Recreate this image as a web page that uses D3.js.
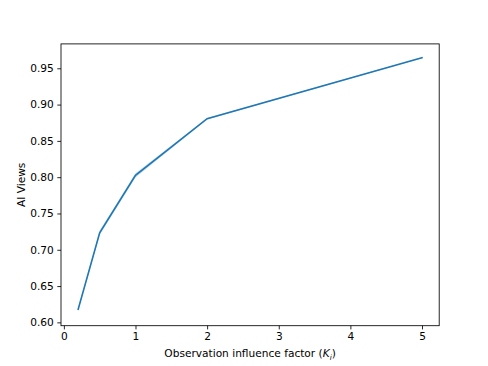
<!DOCTYPE html>
<html>
<head>
<meta charset="utf-8">
<script src="https://cdn.jsdelivr.net/npm/d3@7"></script>
<style>
  body { margin: 0; background: #fff; }
  text { font-family: "DejaVu Sans", sans-serif; }
</style>
</head>
<body>
<div class="chart"></div>
<script>
// data
var kValues = [0.2, 0.5, 1.0, 2.0, 5.0];
var aiViews = [0.618, 0.7235, 0.8025, 0.8805, 0.9645];
var bandLow = [0.6165, 0.7205, 0.7995, 0.8795, 0.9638];
var bandHigh = [0.6195, 0.7265, 0.8055, 0.8815, 0.9652];
var xTicks = [0, 1, 2, 3, 4, 5];
var yTicks = [0.60, 0.65, 0.70, 0.75, 0.80, 0.85, 0.90, 0.95];

var width = 488;
var height = 366;
var plotLeft = 61, plotRight = 439.2, plotTop = 43.9, plotBottom = 325.7;
var fontPx = 10.6;
var tickLen = 3.7;
var blue = "#1f77b4";

var svg = d3.select(".chart")
    .append("svg")
    .attr("width", width)
    .attr("height", height);

var x = d3.scaleLinear().domain([-0.04, 5.24]).range([plotLeft, plotRight]);
var y = d3.scaleLinear().domain([0.5954, 0.9836]).range([plotBottom, plotTop]);

// confidence band
var area = d3.area()
    .x(function(d, i) { return x(kValues[i]); })
    .y0(function(d, i) { return y(bandLow[i]); })
    .y1(function(d, i) { return y(bandHigh[i]); });

svg.append("path")
    .attr("d", area(kValues))
    .attr("fill", blue)
    .attr("opacity", 0.25);

// main line
var line = d3.line()
    .x(function(d, i) { return x(kValues[i]); })
    .y(function(d) { return y(d); });

svg.append("path")
    .attr("d", line(aiViews))
    .attr("fill", "none")
    .attr("stroke", blue)
    .attr("stroke-width", 1.6)
    .attr("stroke-linecap", "square");

// axes
var xAxis = d3.axisBottom(x)
    .tickValues(xTicks)
    .tickFormat(d3.format("d"))
    .tickSizeInner(tickLen)
    .tickSizeOuter(0)
    .tickPadding(3.5);

var yAxis = d3.axisLeft(y)
    .tickValues(yTicks)
    .tickFormat(d3.format(".2f"))
    .tickSizeInner(tickLen)
    .tickSizeOuter(0)
    .tickPadding(3.5);

var gx = svg.append("g")
    .attr("transform", "translate(0," + plotBottom + ")")
    .call(xAxis);

var gy = svg.append("g")
    .attr("transform", "translate(" + plotLeft + ",0)")
    .call(yAxis);

[gx, gy].forEach(function(g) {
    g.select(".domain").remove();
    g.selectAll(".tick line").attr("stroke", "#000").attr("stroke-width", 0.85);
    g.selectAll(".tick text")
        .attr("fill", "#000")
        .style("font-size", fontPx + "px");
});

// frame
svg.append("rect")
    .attr("x", plotLeft)
    .attr("y", plotTop)
    .attr("width", plotRight - plotLeft)
    .attr("height", plotBottom - plotTop)
    .attr("fill", "none")
    .attr("stroke", "#000")
    .attr("stroke-width", 0.85);

// axis labels
var xLabel = svg.append("text")
    .attr("x", (plotLeft + plotRight) / 2)
    .attr("y", 357)
    .attr("text-anchor", "middle")
    .style("font-size", fontPx + "px")
    .attr("fill", "#000");
xLabel.append("tspan").text("Observation influence factor (");
xLabel.append("tspan").attr("font-style", "italic").text("K");
xLabel.append("tspan").attr("font-style", "italic")
    .attr("dy", 2.5).style("font-size", (fontPx * 0.7) + "px").text("i");
xLabel.append("tspan").attr("dy", -2.5).text(")");

svg.append("text")
    .attr("transform", "translate(25," + ((plotTop + plotBottom) / 2) + ") rotate(-90)")
    .attr("text-anchor", "middle")
    .style("font-size", fontPx + "px")
    .attr("fill", "#000")
    .text("AI Views");
</script>
</body>
</html>
